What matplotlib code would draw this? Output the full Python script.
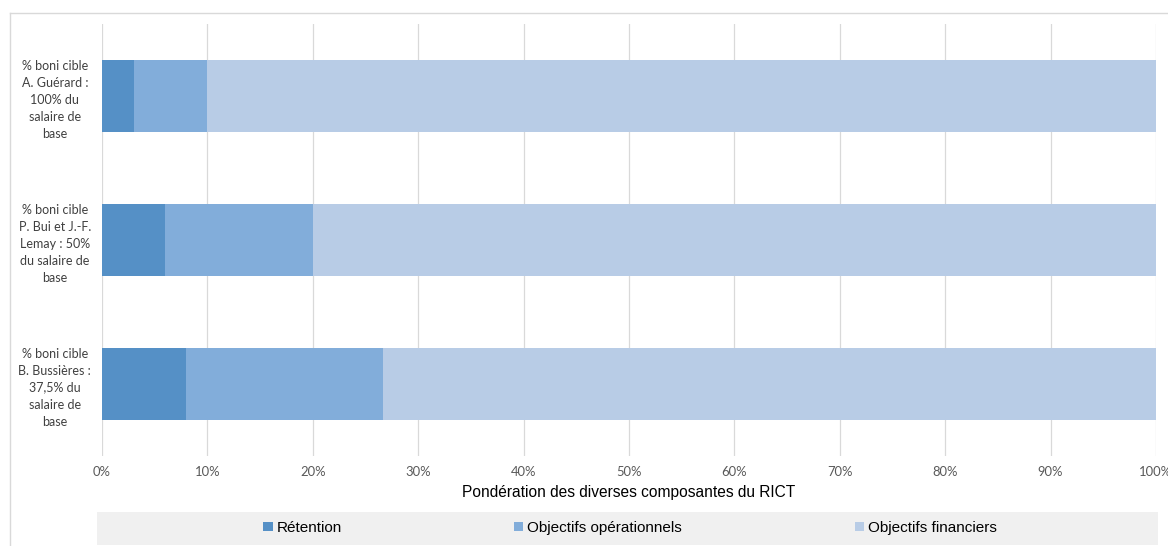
import matplotlib
matplotlib.use("Agg")
import matplotlib.pyplot as plt
from matplotlib.patches import Rectangle, Patch
from matplotlib.lines import Line2D
from matplotlib.ticker import FuncFormatter

categories = [
    "% boni cible\nA. Guérard :\n100% du\nsalaire de\nbase",
    "% boni cible\nP. Bui et J.-F.\nLemay : 50%\ndu salaire de\nbase",
    "% boni cible\nB. Bussières :\n37,5% du\nsalaire de\nbase",
]
retention = [3, 6, 8]
operationnels = [7, 14, 18.7]
financiers = [90, 80, 73.3]
series_names = ["Rétention", "Objectifs opérationnels", "Objectifs financiers"]
colors = ["#5590C6", "#82ADDA", "#B8CCE6"]
x_ticks = [0, 10, 20, 30, 40, 50, 60, 70, 80, 90, 100]
x_label = "Pondération des diverses composantes du RICT"

W, H = 1168, 546
fig = plt.figure(figsize=(W / 100, H / 100), dpi=100)
fig.patch.set_facecolor("white")

# outer border
fig.add_artist(Line2D([10 / W, 10 / W], [0, 1 - 13 / H], transform=fig.transFigure, color="#D9D9D9", lw=1))
fig.add_artist(Line2D([10 / W, 1], [1 - 13 / H, 1 - 13 / H], transform=fig.transFigure, color="#D9D9D9", lw=1))

ax = fig.add_axes([102 / W, 1 - 456 / H, (1156 - 102) / W, (456 - 24) / H])
ypos = list(range(len(categories)))
left = [0] * len(categories)
for vals, name, c in zip([retention, operationnels, financiers], series_names, colors):
    ax.barh(ypos, vals, left=left, height=0.5, color=c, label=name, zorder=3)
    left = [l + v for l, v in zip(left, vals)]

ax.set_xlim(0, 100)
ax.set_ylim(-0.5, len(categories) - 0.5)
ax.invert_yaxis()
ax.set_xticks(x_ticks)
ax.xaxis.set_major_formatter(FuncFormatter(lambda v, p: f"{int(v)}%"))
ax.set_yticks(ypos)
ax.set_yticklabels(categories, fontsize=9, family="Lato", color="#404040",
                   ha="center", multialignment="center", linespacing=1.5)
ax.tick_params(axis="y", length=0, pad=34)
ax.tick_params(axis="x", length=0, pad=7, labelsize=9.4, labelcolor="#595959")
for lab in ax.get_xticklabels():
    lab.set_family("Lato")
ax.grid(axis="x", color="#D9D9D9", lw=0.9, zorder=0)
for s in ax.spines.values():
    s.set_visible(False)

fig.text(629 / W, 1 - 493 / H, x_label, ha="center", va="center",
         fontsize=11.2, family="Liberation Sans", color="#000000")

# legend background
fig.add_artist(Rectangle((97 / W, 1 - 545 / H), (1158 - 97) / W, 33 / H,
                         transform=fig.transFigure, facecolor="#F0F0F0", edgecolor="none", zorder=0))
handles = [Patch(facecolor=c, edgecolor="none") for c in colors]
leg = fig.legend(handles, series_names, loc="center", bbox_to_anchor=(630 / W, 1 - 528 / H),
                 ncol=3, frameon=False, prop={"family": "Liberation Sans", "size": 11},
                 handlelength=0.6, handleheight=0.6, handletextpad=0.25, columnspacing=11.3)

fig.savefig("out.png", dpi=100)
